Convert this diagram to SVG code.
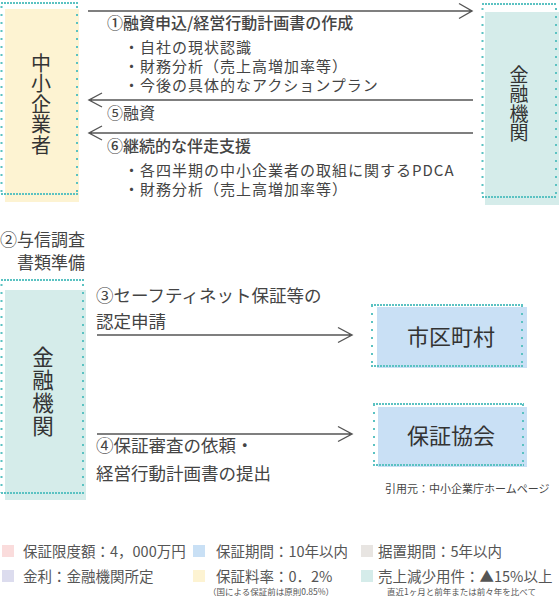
<svg xmlns="http://www.w3.org/2000/svg" width="560" height="596" viewBox="0 0 560 596">
<style>
text{font-family:"Noto Sans CJK JP","Noto Sans",sans-serif;fill:#444}
.h{stroke:#5bc2c2;stroke-width:2;stroke-dasharray:2 1;fill:none}
.v{stroke:#5bc2c2;stroke-width:2;stroke-dasharray:2 6;fill:none}
.ln{stroke:#555;stroke-width:1.4;fill:none}
.t16{font-size:16px}
.b{font-size:15px;letter-spacing:1px}
.t17{font-size:17.5px}
.lg{font-size:14.5px;fill:#555}
.nt{font-size:8.5px;fill:#555}
.vt{text-anchor:middle;fill:#333}
.vert{writing-mode:vertical-rl;text-orientation:upright;fill:#333}
</style>
<rect width="560" height="596" fill="#fff"/>

<g id="node-chusho">
<rect x="5" y="9" width="74" height="193" fill="#fdf3d2"/>
<path class="h" d="M1 3H78M1 194H78"/>
<path class="v" d="M1.5 6V194M77 6V194"/>
<text class="vert" font-size="20" letter-spacing="0.5" x="41" y="53">中小企業者</text>
</g>

<g id="node-kinyu1">
<rect x="485" y="12" width="74" height="193" fill="#d5ecea"/>
<path class="h" d="M482 4H557M482 197H557"/>
<path class="v" d="M482.5 8V197M556 8V197"/>
<text class="vert" font-size="19" letter-spacing="0.5" x="519" y="65">金融機関</text>
</g>

<g id="node-kinyu2">
<rect x="5" y="290" width="81" height="210" fill="#d5ecea"/>
<path class="h" d="M1 280H84M1 493H84"/>
<path class="v" d="M1.5 284V493M83 284V493"/>
<text class="vert" font-size="21.5" letter-spacing="1.5" x="43" y="346">金融機関</text>
</g>

<g id="node-shiku">
<rect x="377" y="307" width="150" height="61" fill="#c9e0f5"/>
<path class="h" d="M371 305H523M371 366H523"/>
<path class="v" d="M372 305V366M522 305V366"/>
<text class="vt" font-size="22" x="451" y="345">市区町村</text>
</g>

<g id="node-hosho">
<rect x="378" y="407" width="149" height="60" fill="#c9e0f5"/>
<path class="h" d="M373 404H524M373 465H524"/>
<path class="v" d="M374 404V465M523 404V465"/>
<text class="vt" font-size="22" x="451" y="444">保証協会</text>
</g>

<g id="connectors">
<path class="ln" d="M88 11H472M459 3.5L472 11L459 18.5"/>
<path class="ln" d="M473 100H89M102 93L89 100L102 107"/>
<path class="ln" d="M473 133H89M102 126L89 133L102 140"/>
<path class="ln" d="M97 335H352M338 327.5L352 335L338 342.5"/>
<path class="ln" d="M97 434H352M338 426.5L352 434L338 441.5"/>
</g>

<g id="labels">
<text class="t16" x="107" y="29" font-weight="500">①融資申込/経営行動計画書の作成</text>
<text class="b" x="124" y="53">・自社の現状認識</text>
<text class="b" x="124" y="72">・財務分析（売上高増加率等）</text>
<text class="b" x="124" y="91">・今後の具体的なアクションプラン</text>
<text class="t16" x="107" y="119">⑤融資</text>
<text class="t16" x="107" y="152" font-weight="500">⑥継続的な伴走支援</text>
<text class="b" x="124" y="175.5">・各四半期の中小企業者の取組に関するPDCA</text>
<text class="b" x="124" y="194.5">・財務分析（売上高増加率等）</text>

<text font-size="17" x="0" y="246">②与信調査</text>
<text font-size="17" x="85" y="269" text-anchor="end">書類準備</text>

<text class="t17" x="96" y="302">③セーフティネット保証等の</text>
<text class="t17" x="96" y="328">認定申請</text>
<text class="t17" x="96" y="452">④保証審査の依頼・</text>
<text class="t17" x="96" y="480">経営行動計画書の提出</text>

<text font-size="11" x="385" y="493" fill="#555">引用元：中小企業庁ホームページ</text>
</g>

<g id="legend">
<rect x="2" y="545" width="12" height="12" fill="#fadcdc"/>
<text class="lg" x="23" y="557">保証限度額：4，000万円</text>
<rect x="193" y="545" width="12" height="12" fill="#c9e0f5"/>
<text class="lg" x="216" y="557">保証期間：10年以内</text>
<rect x="361" y="545" width="12" height="12" fill="#e8e5e2"/>
<text class="lg" x="378" y="557">据置期間：5年以内</text>

<rect x="2" y="570" width="12" height="12" fill="#dcdcee"/>
<text class="lg" x="23" y="582">金利：金融機関所定</text>
<rect x="193" y="570" width="12" height="12" fill="#fdf3d2"/>
<text class="lg" x="216" y="582">保証料率：0．2%</text>
<rect x="361" y="570" width="12" height="12" fill="#d5ecea"/>
<text class="lg" x="378" y="582">売上減少用件：▲15%以上</text>

<text class="nt" x="208" y="594.5">（国による保証前は原則0.85%）</text>
<text class="nt" x="387" y="594.5">直近1ヶ月と前年または前々年を比べて</text>
</g>
</svg>
